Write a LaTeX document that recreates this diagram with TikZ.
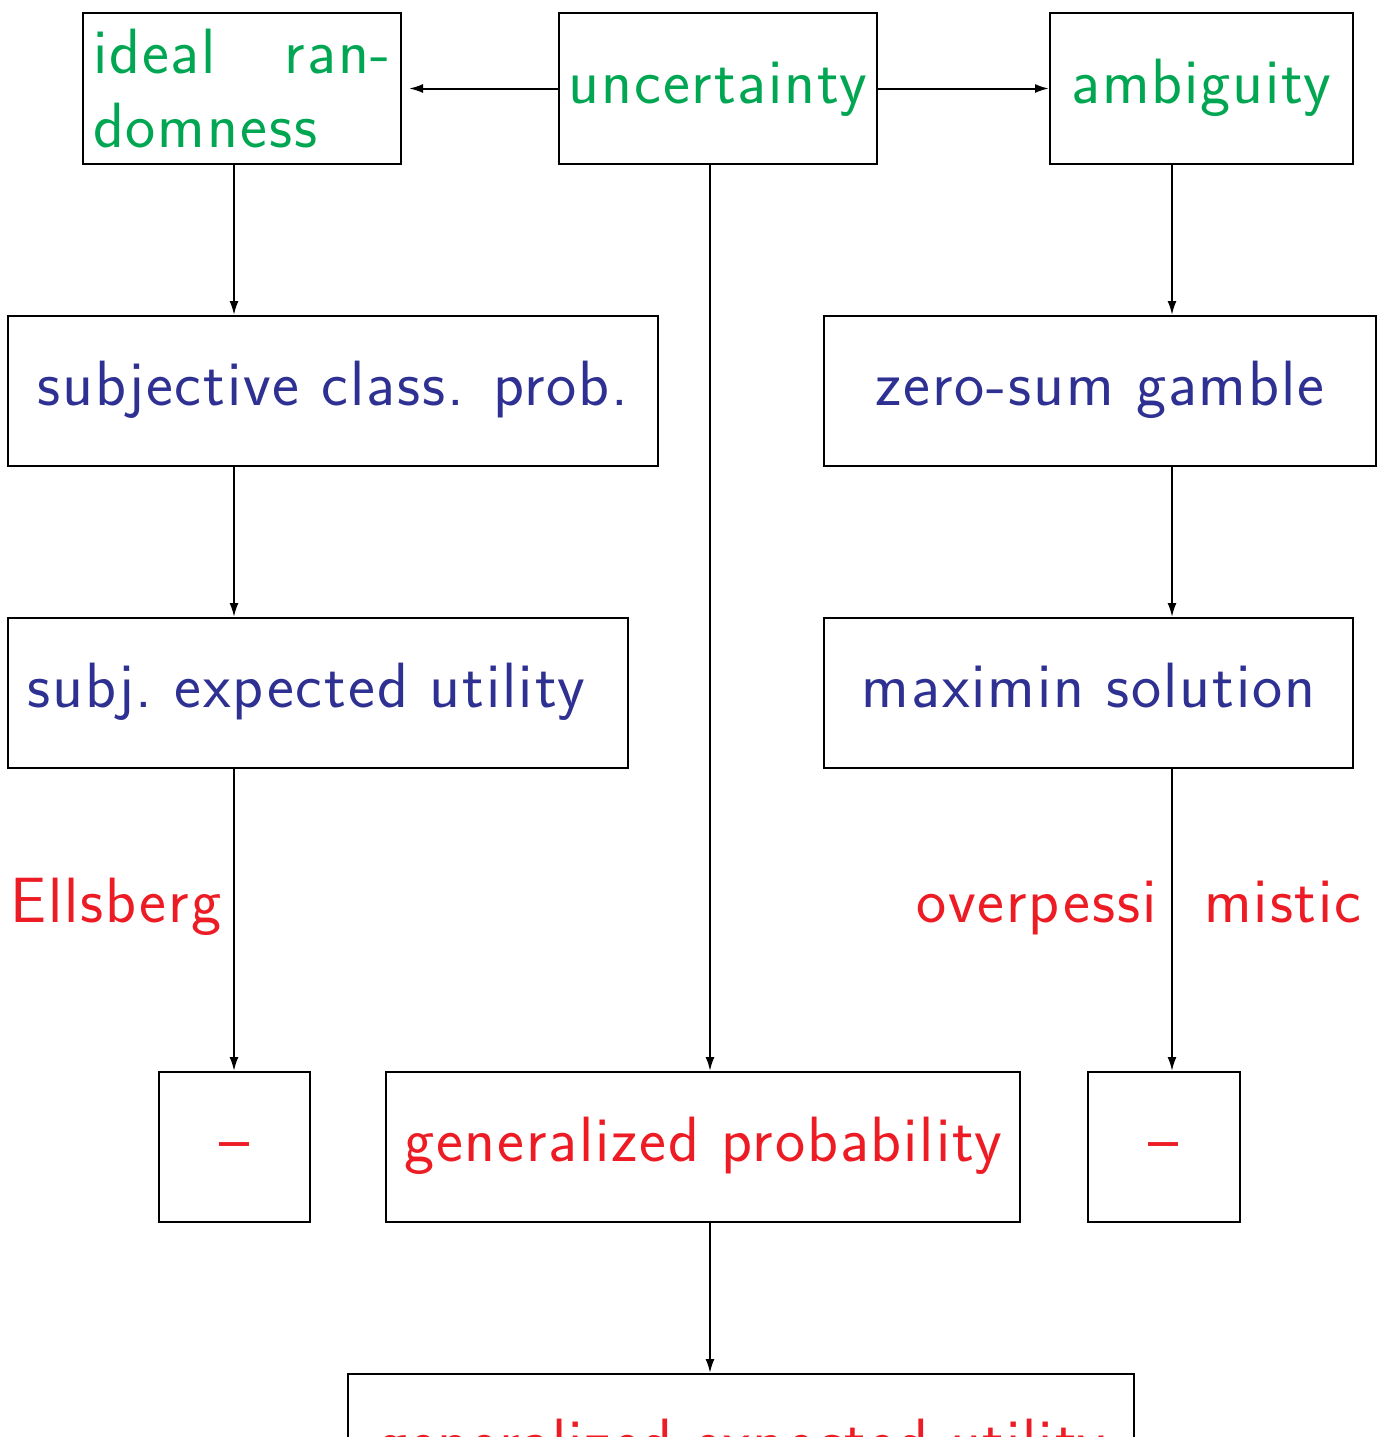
\documentclass[tikz,border=0pt]{standalone}
\usepackage{fontspec}
\usetikzlibrary{arrows.meta}
\definecolor{cgreen}{RGB}{0,166,81}
\definecolor{cblue}{RGB}{46,49,146}
\definecolor{cred}{RGB}{237,28,36}
\newfontfamily\slidesans[LetterSpace=3]{Latin Modern Sans}
\newcommand\slidefont{\fontsize{64}{74}\selectfont\slidesans}
\tikzset{
  box/.style={draw, line width=2pt, inner sep=0pt, font=\slidefont,
    text height=45pt, text depth=16pt},
  lbl/.style={inner sep=0pt, font=\slidefont, text=cred, anchor=base west},
  arr/.style={line width=2pt, -{Latex[length=14pt,width=9pt]}},
}
\begin{document}
\begin{tikzpicture}[x=1pt,y=-1pt]
\useasboundingbox (0,0) rectangle (1381,1437);
\coordinate (lx) at (234,0);
\coordinate (cx) at (710,0);
\coordinate (rx) at (1172,0);
\node[box, minimum width=318pt, minimum height=151pt, text=cgreen, text width=298pt, align=left, text height=, text depth=] (ideal) at (242,88.5) {ideal\hfill ran-\\domness};
\node[box, minimum width=318pt, minimum height=151pt, text=cgreen] (unc) at (718,88.5) {uncertainty};
\node[box, minimum width=303pt, minimum height=151pt, text=cgreen] (amb) at (1201.5,88.5) {ambiguity};
\node[box, minimum width=650pt, minimum height=150pt, text=cblue] (subj) at (333,391) {subjective class. prob.};
\node[box, minimum width=552pt, minimum height=150pt, text=cblue] (zero) at (1100,391) {zero-sum gamble};
\node[box, minimum width=620pt, minimum height=150pt, text=cblue] (seu) at (318,693) {subj.\ expected utility\rule{24pt}{0pt}};
\node[box, minimum width=529pt, minimum height=150pt, text=cblue] (maxi) at (1088.5,693) {maximin solution};
\node[box, minimum width=151pt, minimum height=150pt, text=cred] (dash1) at (234.5,1147) {–};
\node[box, minimum width=634pt, minimum height=150pt, text=cred] (gp) at (703,1147) {generalized probability};
\node[box, minimum width=152pt, minimum height=150pt, text=cred] (dash2) at (1164,1147) {–};
\node[box, minimum width=786pt, minimum height=150pt, text=cred] (geu) at (741,1449) {generalized expected utility};
\node[lbl] (ells) at (10,922) {Ellsberg};
\node[lbl] (over1) at (916,922) {overpessi};
\node[lbl] (over2) at (1204,922) {mistic};
\draw[arr] (unc.west) -- ([xshift=7pt]ideal.east);
\draw[arr] (unc.east) -- (amb.west);
\draw[arr] (ideal.south -| lx) -- (subj.north -| lx);
\draw[arr] (subj.south -| lx) -- (seu.north -| lx);
\draw[arr] (seu.south -| lx) -- (dash1.north -| lx);
\draw[arr] (amb.south -| rx) -- (zero.north -| rx);
\draw[arr] (zero.south -| rx) -- (maxi.north -| rx);
\draw[arr] (maxi.south -| rx) -- (dash2.north -| rx);
\draw[arr] (unc.south -| cx) -- (gp.north -| cx);
\draw[arr] (gp.south -| cx) -- (geu.north -| cx);
\end{tikzpicture}
\end{document}
